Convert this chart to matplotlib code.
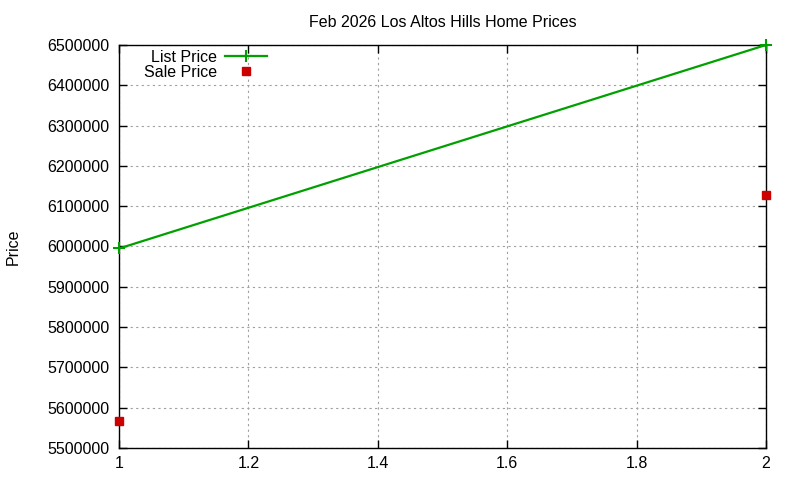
import matplotlib
matplotlib.use("Agg")
import matplotlib.pyplot as plt
from matplotlib.ticker import MultipleLocator, FormatStrFormatter, FuncFormatter

plt.rcParams['font.family'] = ['Liberation Sans', 'DejaVu Sans']

x_vals = [1, 2]
list_price = [5995000, 6500000]
sale_price = [5568000, 6128000]
title = "Feb 2026 Los Altos Hills Home Prices"

fig = plt.figure(figsize=(8, 4.8), dpi=100)
ax = fig.add_axes([0.14875, 0.0667, 0.80875, 0.8396])

ax.plot(x_vals, list_price, color='#00a000', lw=1.6, marker='+', ms=8, mew=1.5,
        label='List Price', clip_on=False, zorder=3)
ax.plot(x_vals, sale_price, color='#cc0000', lw=0, marker='s', ms=6,
        label='Sale Price', clip_on=False, zorder=3)

ax.set_xlim(1, 2)
ax.set_ylim(5500000, 6500000)
ax.xaxis.set_major_locator(MultipleLocator(0.2))
ax.yaxis.set_major_locator(MultipleLocator(100000))
ax.xaxis.set_major_formatter(FuncFormatter(lambda v, p: f"{v:g}"))
ax.yaxis.set_major_formatter(FormatStrFormatter('%d'))
ax.tick_params(direction='in', length=6, width=1, labelsize=11.5, top=True, right=True)
ax.tick_params(axis='y', pad=7)
ax.tick_params(axis='x', pad=6)
ax.grid(True, color='#a0a0a0', linestyle=(0, (2, 3)), linewidth=0.8)
for s in ax.spines.values():
    s.set_linewidth(1)
    s.set_color('black')

ax.set_title(title, fontsize=11.5, pad=13)
ax.set_ylabel('Price', fontsize=11.5)
ax.yaxis.set_label_coords(-0.152, 0.5)

leg = ax.legend(loc='upper right', bbox_to_anchor=(0.2287, 0.9876), markerfirst=False,
                frameon=False, fontsize=11.5, handlelength=2.6, handletextpad=0.55,
                labelspacing=0.0, borderaxespad=0.0, borderpad=0.0)
fig.savefig('out.png', dpi=100)
